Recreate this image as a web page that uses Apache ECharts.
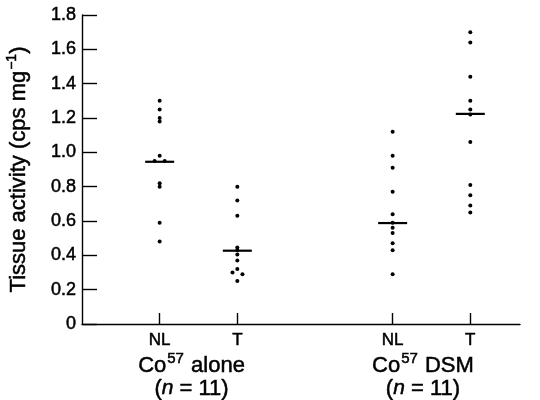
<!DOCTYPE html>
<html>
<head>
<meta charset="utf-8">
<script src="https://cdn.jsdelivr.net/npm/echarts@6/dist/echarts.min.js"></script>
<style>
html,body{margin:0;padding:0;background:#fff;}
#chart{width:540px;height:400px;}
</style>
</head>
<body>
<div id="chart"></div>
<script>
// ---- data ----
const tickLabels = ['NL', 'T', 'NL', 'T'];
const groupPos = [1, 2, 4, 5];
const groupCenters = [1.41, 4.39];
const groupNames = ['alone', 'DSM'];
const groupN = [11, 11];
const yTicks = [0, 0.2, 0.4, 0.6, 0.8, 1.0, 1.2, 1.4, 1.6, 1.8];

const nlAlone = [1.30, 1.25, 1.20, 1.18, 0.98, 0.95, 0.95, 0.82, 0.80, 0.59, 0.48];
const nlAloneJitter = [0, 0, 0, 0, 0, -0.065, 0.065, 0, 0, 0, 0];
const tAlone = [0.80, 0.72, 0.63, 0.445, 0.43, 0.405, 0.37, 0.32, 0.30, 0.29, 0.25];
const tAloneJitter = [0, 0, 0, 0, 0, 0, 0, 0, -0.062, 0.066, 0];
const nlDsm = [1.12, 0.98, 0.91, 0.77, 0.64, 0.59, 0.56, 0.53, 0.47, 0.43, 0.29];
const nlDsmJitter = [0, 0, 0, 0, 0, 0, 0, 0, 0, 0, 0];
const tDsm = [1.70, 1.64, 1.44, 1.30, 1.25, 1.22, 1.06, 0.81, 0.75, 0.69, 0.65];
const tDsmJitter = [0, 0, 0, 0, 0, 0, 0, 0, 0, 0, 0];
const medians = [0.945, 0.427, 0.588, 1.224];

// ---- build ----
const columns = [
  [nlAlone, nlAloneJitter],
  [tAlone, tAloneJitter],
  [nlDsm, nlDsmJitter],
  [tDsm, tDsmJitter]
];
const dotData = [];
columns.forEach(([vals, jit], i) => {
  vals.forEach((v, k) => dotData.push([groupPos[i] + jit[k], v]));
});
const medianData = medians.map((m, i) => [groupPos[i], m]);

const FONT = 'Liberation Sans';
const TB = {textBorderColor: '#000', textBorderWidth: 0.5};
const chart = echarts.init(document.getElementById('chart'), null, {renderer: 'canvas'});
chart.setOption({
  backgroundColor: '#fff',
  animation: false,
  grid: {left: 82, right: 20, top: 15, bottom: 76, outerBoundsMode: 'none', containLabel: false},
  xAxis: [{
    type: 'value', min: 0, max: 5.64,
    axisLine: {lineStyle: {color: '#000', width: 1.4}},
    axisTick: {show: true, inside: true, length: 11, customValues: groupPos, lineStyle: {color: '#000', width: 1.4}},
    axisLabel: Object.assign({
      customValues: groupPos, margin: 8, color: '#000', fontFamily: FONT, fontSize: 17,
      formatter: v => tickLabels[groupPos.indexOf(v)] || ''
    }, TB),
    splitLine: {show: false}
  }, {
    type: 'value', min: 0, max: 5.64, position: 'bottom',
    axisLine: {show: false}, axisTick: {show: false}, splitLine: {show: false},
    axisLabel: {
      customValues: groupCenters, margin: 30, color: '#000', fontFamily: FONT, fontSize: 21,
      formatter: v => {
        const i = groupCenters.indexOf(v);
        if (i < 0) return '';
        return '{c|Co}{s|57}{c| ' + groupNames[i] + '}\n{c|(}{i|n}{c| = ' + groupN[i] + ')}';
      },
      rich: {
        c: Object.assign({fontFamily: FONT, fontSize: 22, color: '#000', lineHeight: 23}, TB),
        i: Object.assign({fontFamily: FONT, fontSize: 21, color: '#000', fontStyle: 'italic', lineHeight: 23}, TB),
        s: Object.assign({fontFamily: FONT, fontSize: 15, color: '#000', padding: [0, 1, 13, 1], lineHeight: 23}, TB)
      }
    }
  }],
  yAxis: {
    type: 'value', min: 0, max: 1.8, interval: 0.2,
    axisLine: {show: true, lineStyle: {color: '#000', width: 1.4}},
    axisTick: {show: true, inside: true, length: 15, lineStyle: {color: '#000', width: 1.4}},
    axisLabel: Object.assign({
      margin: 6, color: '#000', fontFamily: FONT, fontSize: 18,
      formatter: v => (Math.abs(v) < 1e-9 ? '0' : v.toFixed(1))
    }, TB),
    splitLine: {show: false},
    name: '{a|Tissue activity (cps mg}{s|−1}{a|)}',
    nameLocation: 'middle', nameGap: 50, nameRotate: 90,
    nameTextStyle: {
      rich: {
        a: Object.assign({fontFamily: FONT, fontSize: 22, color: '#000'}, TB),
        s: Object.assign({fontFamily: FONT, fontSize: 14, color: '#000', padding: [0, 0, 13, 1]}, TB)
      }
    }
  },
  series: [{
    type: 'scatter', xAxisIndex: 0, data: dotData,
    symbol: 'circle', symbolSize: 4, itemStyle: {color: '#000', opacity: 1},
    silent: true
  }, {
    type: 'scatter', xAxisIndex: 0, data: medianData,
    symbol: 'rect', symbolSize: [29, 2.2], itemStyle: {color: '#000', opacity: 1},
    silent: true, z: 3
  }]
});
</script>
</body>
</html>
